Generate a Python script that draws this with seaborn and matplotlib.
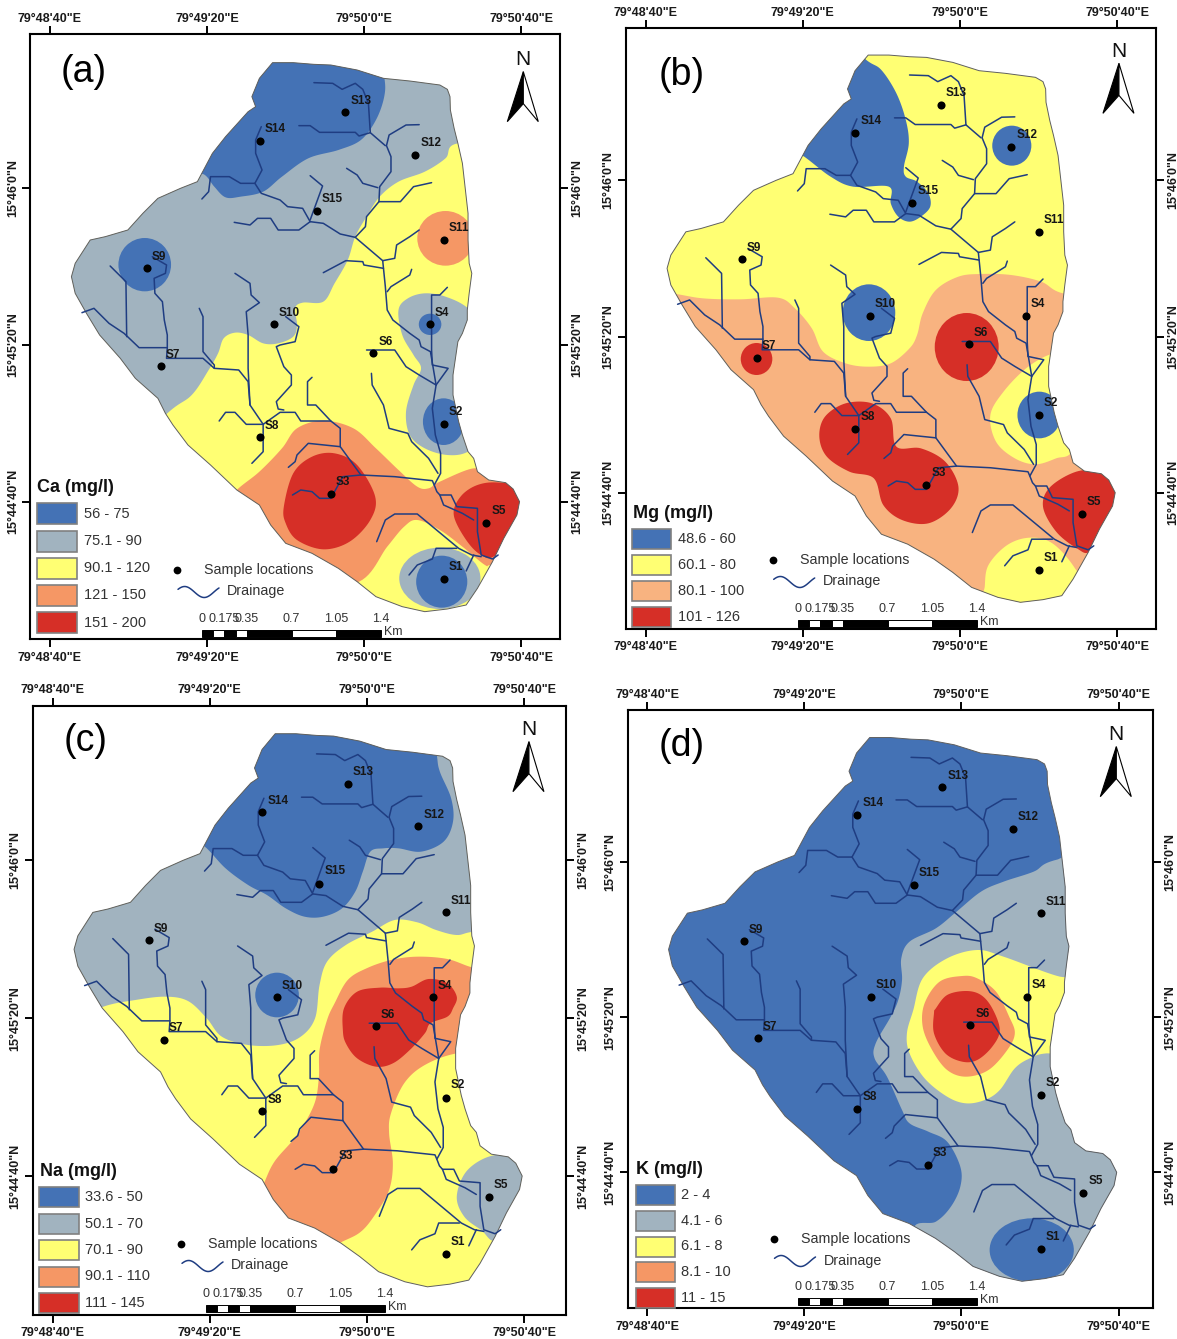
import numpy as np
import pandas as pd
import matplotlib
matplotlib.use("Agg")
import matplotlib.pyplot as plt
from matplotlib.patches import Ellipse, Polygon, Rectangle
import seaborn as sns

# all map geometry was digitised on a grid of 418 units per 40" of longitude
GRID_PER_40S = 418.0
PX_X = 2.66
PX_Y = 3.0

BLUE = "#4472b5"
GREY = "#a1b3bf"
YELLOW = "#ffff73"
ORANGE = "#f59765"
PEACH = "#f8b380"
RED = "#d62f27"

LON_LABELS = ["79°48'40\"E", "79°49'20\"E", "79°50'0\"E", "79°50'40\"E"]
LAT_LABELS = ["15°44'40\"N", "15°45'20\"N", "15°46'0\"N"]
SCALE_LABELS = ["0", "0.175", "0.35", "0.7", "1.05", "1.4"]
SCALE_TICKS = [0, 0.175, 0.35, 0.7, 1.05, 1.4]
SCALE_BREAKS = [0, 0.0875, 0.175, 0.2625, 0.35, 0.7, 1.05, 1.4]

SITES = ["S1", "S2", "S3", "S4", "S5", "S6", "S7", "S8", "S9", "S10", "S11", "S12", "S13", "S14", "S15"]
SITE_X = [1180, 1180, 880, 1144, 1293, 992, 428, 691, 390, 729, 1180, 1105, 918, 691, 842]
SITE_Y = [1737, 1272, 1483, 973, 1568, 1058, 1099, 1312, 803, 973, 720, 464, 337, 422, 634]
LABEL_X = [1212, 1212, 912, 1175, 1326, 1025, 460, 724, 422, 770, 1220, 1147, 960, 733, 884]
LABEL_Y = [1702, 1235, 1445, 938, 1532, 1025, 1065, 1278, 770, 938, 685, 430, 303, 387, 597]

OUTLINE = [(725, 188), (780, 188), (835, 193), (880, 195), (950, 210), (1020, 235), (1090, 243), (1170, 255),
           (1190, 268), (1197, 290), (1198, 330), (1208, 385), (1218, 430), (1230, 490), (1240, 590), (1245, 640),
           (1245, 720), (1248, 790), (1255, 820), (1248, 880), (1243, 930), (1243, 960), (1230, 1000), (1218, 1025),
           (1205, 1125), (1205, 1185), (1220, 1265), (1230, 1305), (1245, 1355), (1260, 1375), (1270, 1415),
           (1300, 1440), (1345, 1448), (1365, 1467), (1382, 1505), (1375, 1545), (1340, 1615), (1310, 1685),
           (1290, 1725), (1270, 1765), (1240, 1815), (1190, 1827), (1130, 1835), (1070, 1820), (1000, 1790),
           (950, 1745), (900, 1705), (830, 1660), (760, 1630), (720, 1575), (690, 1515), (630, 1470), (560, 1395),
           (500, 1335), (460, 1275), (440, 1240), (420, 1195), (360, 1135), (320, 1075), (265, 1005), (230, 940),
           (200, 880), (190, 830), (200, 790), (240, 720), (280, 710), (340, 690), (380, 640), (420, 595),
           (480, 565), (525, 545), (565, 460), (600, 410), (660, 335), (680, 320), (670, 290), (690, 235)]

STREAMS = [
    [(835, 248), (885, 250), (910, 268), (945, 250), (965, 268), (980, 310), (985, 398), (1025, 437)],
    [(795, 377), (825, 377), (850, 397), (945, 397), (955, 408), (985, 398)],
    [(1115, 374), (1080, 375), (1035, 405), (1028, 437), (1040, 470), (1040, 515), (1010, 560), (1008, 605),
     (975, 650), (972, 680), (945, 712)],
    [(922, 505), (950, 525), (965, 550), (1005, 563)],
    [(1148, 548), (1100, 560), (1065, 605), (1008, 605)],
    [(695, 380), (680, 420), (680, 460), (697, 510), (678, 550), (695, 580), (745, 600), (765, 620), (805, 625),
     (825, 665), (860, 670), (905, 702), (945, 712), (1018, 782), (1025, 860), (1030, 930), (1045, 960),
     (1090, 1000), (1115, 1020), (1120, 1040), (1145, 1055), (1160, 1155)],
    [(1190, 862), (1170, 885), (1148, 885), (1148, 1050), (1150, 1095), (1192, 1105), (1160, 1155), (1150, 1225),
     (1158, 1305), (1172, 1360), (1172, 1420), (1155, 1455), (1162, 1475), (1170, 1485), (1200, 1485),
     (1215, 1520), (1270, 1525), (1270, 1595), (1280, 1665), (1310, 1677), (1325, 1665)],
    [(975, 1050), (1050, 1050), (1080, 1100), (1115, 1125), (1160, 1155)],
    [(988, 1120), (990, 1155), (1020, 1215), (1035, 1285), (1085, 1300), (1095, 1325), (1140, 1375), (1165, 1420)],
    [(778, 1485), (800, 1470), (830, 1475), (850, 1495), (880, 1495), (912, 1430), (960, 1425), (1050, 1430),
     (1150, 1442), (1155, 1455)],
    [(960, 1425), (905, 1340), (820, 1330), (790, 1365), (785, 1385), (767, 1402)],
    [(905, 1340), (905, 1285), (880, 1263), (800, 1263), (785, 1237), (745, 1237), (700, 1273), (655, 1273),
     (625, 1237), (600, 1237), (583, 1263)],
    [(830, 1132), (818, 1145), (818, 1215), (840, 1215), (880, 1263)],
    [(700, 1273), (700, 1355), (670, 1390)],
    [(625, 820), (665, 850), (668, 885), (690, 908), (655, 935), (660, 1005), (660, 1105), (665, 1215), (700, 1273)],
    [(760, 950), (795, 980), (785, 1025), (745, 1035), (735, 1040), (755, 1100), (775, 1125), (775, 1155),
     (735, 1205), (740, 1227), (755, 1230)],
    [(293, 798), (335, 845), (337, 1010)],
    [(218, 938), (250, 925), (290, 970), (330, 1000), (370, 1043), (445, 1043)],
    [(405, 770), (443, 795), (440, 820), (410, 835), (412, 880), (432, 905), (437, 960), (445, 1005), (445, 1043),
     (443, 1075), (540, 1075), (570, 1105), (635, 1110), (660, 1145), (665, 1215)],
    [(530, 925), (540, 950), (540, 1055), (570, 1095), (570, 1105)],
    [(623, 667), (665, 675), (685, 655), (720, 655), (740, 690), (795, 690), (825, 665)],
    [(825, 527), (858, 558), (825, 660)],
    [(537, 597), (555, 575), (560, 530), (610, 530), (640, 550), (678, 550)],
    [(1115, 690), (1090, 710), (1055, 735), (1050, 775), (1018, 782)],
    [(860, 818), (920, 782), (965, 785), (968, 795), (1020, 805)],
    [(1095, 808), (1090, 825), (1040, 860), (1030, 875)],
    [(1002, 1625), (1025, 1560), (1050, 1542), (1110, 1542), (1220, 1645), (1255, 1665), (1280, 1670)],
    [(1260, 1665), (1240, 1713)],
    [(1088, 1725), (1110, 1695), (1150, 1677), (1160, 1645), (1215, 1645)],
    [(1170, 1485), (1180, 1515), (1230, 1540), (1260, 1560)],
]

# panel a, Ca
A_GREY = [(0, 100), (1400, 100), (1400, 430), (1218, 430), (1185, 475), (1130, 515), (1060, 545), (1010, 590),
          (975, 650), (945, 710), (925, 780), (890, 850), (860, 905), (805, 908), (785, 925), (790, 975),
          (780, 1010), (740, 1030), (700, 1030), (660, 1005), (625, 998), (595, 1015), (580, 1060), (555, 1110),
          (510, 1185), (445, 1240), (300, 1400), (0, 1300)]
A_BLUE = [(500, 500), (545, 525), (570, 560), (600, 592), (640, 590), (700, 575), (750, 530), (820, 475), (900, 450),
          (960, 420), (1000, 360), (1022, 290), (1022, 230), (1000, 120), (600, 120), (450, 350)]
A_EAST = [(1060, 930), (1085, 895), (1130, 880), (1185, 890), (1245, 925), (1300, 1000), (1300, 1300), (1245, 1355),
          (1190, 1365), (1130, 1345), (1090, 1305), (1080, 1235), (1100, 1155), (1120, 1105), (1100, 1065), (1070, 1005)]
A_ORANGE = [(630, 1470), (690, 1415), (750, 1345), (790, 1285), (860, 1262), (940, 1285), (1000, 1345), (1060, 1410),
            (1110, 1460), (1140, 1465), (1170, 1445), (1260, 1405), (1300, 1430), (1420, 1450), (1420, 1700),
            (1310, 1695), (1290, 1695), (1230, 1640), (1170, 1590), (1110, 1560), (1075, 1580), (1030, 1640),
            (955, 1745), (800, 1760), (600, 1520)]
A_RED_S3 = [(755, 1520), (780, 1420), (830, 1370), (890, 1360), (950, 1395), (998, 1490), (985, 1560), (930, 1625),
            (860, 1648), (790, 1620), (760, 1570)]
A_RED_S5 = [(1207, 1545), (1225, 1490), (1270, 1455), (1330, 1448), (1420, 1470), (1420, 1560), (1320, 1665),
            (1280, 1665), (1240, 1620)]

# panel b, Mg
B_BLUE = [(735, 180), (775, 210), (815, 280), (840, 360), (848, 430), (835, 500), (840, 530), (870, 545), (900, 580),
          (905, 620), (880, 650), (850, 665), (820, 650), (800, 610), (795, 560), (700, 560), (640, 530), (570, 470),
          (480, 400), (650, 100)]
B_PEACH = [(100, 870), (215, 880), (300, 895), (400, 898), (500, 893), (545, 925), (590, 985), (620, 1055),
           (680, 1090), (740, 1100), (800, 1090), (850, 1045), (870, 1005), (885, 940), (920, 870), (980, 830),
           (1040, 822), (1120, 825), (1200, 845), (1258, 880), (1400, 900), (1500, 1100), (1500, 1900), (100, 1900)]
B_YELLOW_S2 = [(1220, 1065), (1160, 1105), (1100, 1175), (1065, 1245), (1080, 1325), (1130, 1375), (1185, 1393),
               (1240, 1375), (1285, 1350), (1330, 1205), (1260, 1065)]
B_YELLOW_S1 = [(1050, 1760), (1060, 1695), (1110, 1635), (1170, 1613), (1230, 1630), (1290, 1705), (1330, 1805),
               (1150, 1880), (1050, 1810)]
B_RED_S8 = [(610, 1310), (625, 1250), (680, 1210), (750, 1210), (800, 1255), (815, 1340), (880, 1345), (945, 1385),
            (980, 1460), (960, 1525), (900, 1570), (830, 1560), (780, 1515), (755, 1435), (690, 1415), (630, 1370)]
B_RED_S5 = [(1205, 1520), (1225, 1460), (1300, 1413), (1375, 1420), (1440, 1485), (1380, 1585), (1330, 1655),
            (1295, 1645), (1240, 1595)]

# panel c, Na
C_GREY = [(0, 100), (1400, 100), (1400, 770), (1265, 770), (1215, 780), (1160, 765), (1110, 742), (1050, 735),
          (990, 770), (920, 810), (870, 860), (850, 930), (838, 1030), (800, 1085), (740, 1110), (660, 1110),
          (590, 1085), (550, 1030), (500, 978), (440, 965), (360, 975), (275, 995), (200, 1040), (0, 1040)]
C_BLUE = [(500, 480), (548, 518), (600, 580), (660, 630), (710, 660), (760, 700), (810, 725), (860, 725), (910, 700),
          (945, 650), (965, 590), (985, 530), (1020, 520), (1060, 520), (1120, 530), (1180, 500), (1205, 440),
          (1200, 370), (1170, 290), (1162, 240), (1150, 120), (600, 120), (450, 400)]
C_ORANGE = [(1320, 878), (1260, 878), (1190, 852), (1110, 845), (1040, 855), (975, 880), (925, 915), (890, 985),
            (870, 1035), (850, 1125), (848, 1210), (835, 1290), (790, 1380), (730, 1460), (698, 1535), (650, 1650),
            (800, 1760), (905, 1703), (960, 1670), (1000, 1615), (1035, 1545), (1045, 1465), (1035, 1375),
            (1040, 1315), (1075, 1225), (1130, 1170), (1215, 1135), (1320, 1130)]
C_RED = [(915, 1000), (950, 950), (1010, 938), (1060, 940), (1095, 935), (1140, 912), (1190, 925), (1215, 965),
         (1205, 1000), (1190, 1025), (1145, 1045), (1130, 1075), (1090, 1125), (1045, 1165), (1000, 1175), (950, 1150),
         (920, 1105), (912, 1065)]
C_GREY_S5 = [(1215, 1565), (1240, 1490), (1300, 1445), (1365, 1445), (1440, 1505), (1380, 1595), (1320, 1695),
             (1280, 1665), (1235, 1625)]

# panel d, K
D_GREY = [(1245, 553), (1180, 590), (1100, 620), (1040, 650), (975, 710), (920, 760), (850, 800), (828, 850),
          (830, 915), (820, 975), (800, 1025), (760, 1105), (757, 1150), (790, 1205), (830, 1305), (850, 1345),
          (900, 1370), (950, 1400), (985, 1475), (985, 1535), (960, 1595), (920, 1640), (860, 1665), (900, 1850),
          (1500, 1850), (1500, 500)]
D_YELLOW = [(860, 1005), (885, 910), (950, 850), (1030, 825), (1100, 845), (1250, 905), (1320, 905), (1320, 1135),
            (1215, 1135), (1170, 1150), (1130, 1180), (1090, 1245), (1050, 1275), (1000, 1285), (950, 1265),
            (890, 1210), (850, 1135), (843, 1075)]
D_ORANGE = [(890, 985), (930, 920), (990, 903), (1030, 910), (1080, 950), (1115, 1025), (1130, 1075), (1110, 1125),
            (1060, 1185), (1000, 1205), (950, 1185), (910, 1125), (885, 1055)]
D_RED = [(920, 1000), (950, 960), (1000, 948), (1040, 960), (1070, 1000), (1090, 1065), (1070, 1115), (1030, 1155),
         (990, 1160), (945, 1135), (915, 1075), (915, 1015)]

PANELS = [
    dict(letter="(a)", title="Ca (mg/l)", origin=(0, 0), x0=133, y46=565, y44=1505, frame=(80, 1490, 103, 1917),
         base=YELLOW, letter_at=(83.5, 72), north=(1392, 215), swatch=(36.5, 503.3, 40.6, 21, 27.2), title_at=(37, 488),
         key_at=(177, 570), scale_at=(202, 630),
         labels=["56 - 75", "75.1 - 90", "90.1 - 120", "121 - 150", "151 - 200"],
         colors=[BLUE, GREY, YELLOW, ORANGE, RED],
         zones=[(A_GREY, GREY), (A_BLUE, BLUE), ((385, 794, 70, 80), BLUE), (A_EAST, GREY), ((1144, 973, 30, 32), BLUE),
                ((1180, 1265, 55, 70), BLUE), ((1185, 715, 75, 82), ORANGE), (A_ORANGE, ORANGE), (A_RED_S3, RED),
                (A_RED_S5, RED), ((1170, 1735, 108, 92), GREY), ((1175, 1745, 68, 78), BLUE)]),
    dict(letter="(b)", title="Mg (mg/l)", origin=(590, 0), x0=148, y46=541, y44=1478, frame=(95, 1505, 85, 1887),
         base=YELLOW, letter_at=(682, 75), north=(1407, 190), swatch=(632, 529, 39, 20, 25.9), title_at=(633, 513),
         key_at=(772.7, 560), scale_at=(798, 620),
         labels=["48.6 - 60", "60.1 - 80", "80.1 - 100", "101 - 126"],
         colors=[BLUE, YELLOW, PEACH, RED],
         zones=[(B_BLUE, BLUE), ((1122, 437, 52, 60), BLUE), (B_PEACH, PEACH), (B_YELLOW_S2, YELLOW),
                (B_YELLOW_S1, YELLOW), ((742, 938, 70, 85), BLUE), ((443, 1077, 42, 48), RED),
                ((1002, 1041, 85, 102), RED), ((1195, 1245, 58, 70), BLUE), (B_RED_S8, RED), (B_RED_S5, RED)]),
    dict(letter="(c)", title="Na (mg/l)", origin=(0, 675), x0=140, y46=556, y44=1503, frame=(87, 1505, 92, 1920),
         base=YELLOW, letter_at=(86, 741), north=(1407, 200), swatch=(39, 1187, 39.5, 20, 26.5), title_at=(39.5, 1171),
         key_at=(181, 1244), scale_at=(205.6, 1305),
         labels=["33.6 - 50", "50.1 - 70", "70.1 - 90", "90.1 - 110", "111 - 145"],
         colors=[BLUE, GREY, YELLOW, ORANGE, RED],
         zones=[(C_GREY, GREY), (C_BLUE, BLUE), ((737, 960, 58, 67), BLUE), (C_ORANGE, ORANGE), (C_RED, RED),
                (C_GREY_S5, GREY)]),
    dict(letter="(d)", title="K (mg/l)", origin=(590, 675), x0=152, y46=561, y44=1492, frame=(100, 1497, 105, 1900),
         base=BLUE, letter_at=(682, 746), north=(1400, 215), swatch=(635.5, 1185, 39, 20, 25.75), title_at=(636, 1170),
         key_at=(773.5, 1239), scale_at=(798, 1297.7),
         labels=["2 - 4", "4.1 - 6", "6.1 - 8", "8.1 - 10", "11 - 15"],
         colors=[BLUE, GREY, YELLOW, ORANGE, RED],
         zones=[(D_GREY, GREY), (D_YELLOW, YELLOW), (D_ORANGE, ORANGE), (D_RED, RED), ((1175, 1725, 112, 95), BLUE)]),
]

# the shared layers were digitised on panel a
REF_X0, REF_Y46, REF_Y44 = 133, 565, 1505


def to_lonlat(xs, ys, x0=REF_X0, y46=REF_Y46, y44=REF_Y44):
    lon = (np.asarray(xs, dtype=float) - x0) / GRID_PER_40S * 40
    lat = (y44 - np.asarray(ys, dtype=float)) / (y44 - y46) * 80
    return lon, lat


def smooth_ring(xs, ys, steps=12):
    # closed Catmull-Rom, so the zone edges are rounded like the kriged surfaces
    p = np.column_stack([xs, ys])
    n = len(p)
    out = []
    t = np.linspace(0, 1, steps, endpoint=False)[:, None]
    for i in range(n):
        a, b, c, d = p[i - 1], p[i], p[(i + 1) % n], p[(i + 2) % n]
        out.append(0.5 * (2 * b + (c - a) * t + (2 * a - 5 * b + 4 * c - d) * t ** 2 + (3 * b - a - 3 * c + d) * t ** 3))
    return np.vstack(out)


sns.set_style("white")
plt.rcParams["font.family"] = ["Liberation Sans", "DejaVu Sans"]

W, H = 1177, 1339
fig = plt.figure(figsize=(W / 100, H / 100), dpi=100)

site_lon, site_lat = to_lonlat(SITE_X, SITE_Y)
sites_df = pd.DataFrame({"lon": site_lon, "lat": site_lat, "site": SITES})
label_lon, label_lat = to_lonlat(LABEL_X, LABEL_Y)

rows = []
for i, reach in enumerate(STREAMS):
    lon, lat = to_lonlat([q[0] for q in reach], [q[1] for q in reach])
    rows.append(pd.DataFrame({"lon": lon, "lat": lat, "reach": i}))
streams_df = pd.concat(rows, ignore_index=True)

out_lon, out_lat = to_lonlat([q[0] for q in OUTLINE], [q[1] for q in OUTLINE])
outline_xy = np.column_stack([out_lon, out_lat])

# overlay in picture pixels for the legends, scale bars and north arrows
ov = fig.add_axes([0, 0, 1, 1], zorder=10)
ov.set_xlim(0, W)
ov.set_ylim(H, 0)
ov.axis("off")
ov.patch.set_alpha(0)

for panel in PANELS:
    ox, oy = panel["origin"]
    fx0, fx1, fy0, fy1 = panel["frame"]
    left = ox + fx0 / PX_X
    right = ox + fx1 / PX_X
    top = oy + fy0 / PX_Y
    bottom = oy + fy1 / PX_Y
    ax = fig.add_axes([left / W, 1 - bottom / H, (right - left) / W, (bottom - top) / H])
    cal = (panel["x0"], panel["y46"], panel["y44"])

    basin = Polygon(outline_xy, closed=True, facecolor=panel["base"], edgecolor="none", zorder=1)
    ax.add_patch(basin)
    for k, (shape, color) in enumerate(panel["zones"]):
        if isinstance(shape, tuple):
            cx, cy, rx, ry = shape
            lon, lat = to_lonlat(cx, cy, *cal)
            w = 2 * rx / GRID_PER_40S * 40
            h = 2 * ry / (cal[2] - cal[1]) * 80
            zone = Ellipse((lon, lat), w, h, facecolor=color, edgecolor="none", zorder=2 + k * 0.01)
        else:
            ring = smooth_ring([q[0] for q in shape], [q[1] for q in shape])
            lon, lat = to_lonlat(ring[:, 0], ring[:, 1], *cal)
            zone = Polygon(np.column_stack([lon, lat]), closed=True, facecolor=color, edgecolor="none",
                           zorder=2 + k * 0.01)
        ax.add_patch(zone)
        zone.set_clip_path(basin)
    ax.add_patch(Polygon(outline_xy, closed=True, fill=False, edgecolor="#5f5f5f", linewidth=0.7, zorder=3))

    sns.lineplot(data=streams_df, x="lon", y="lat", units="reach", estimator=None, sort=False,
                 color="#1f3d82", linewidth=1.1, legend=False, ax=ax, zorder=4)
    sns.scatterplot(data=sites_df, x="lon", y="lat", color="black", s=34, linewidth=0, legend=False, ax=ax, zorder=5)
    for name, lx, ly in zip(SITES, label_lon, label_lat):
        ax.text(lx, ly, name, fontsize=8.5, fontweight="bold", color="#161616", ha="center", va="center", zorder=6)

    xl, _ = to_lonlat([fx0, fx1], [0, 0], *cal)
    _, yl = to_lonlat([0, 0], [fy1, fy0], *cal)
    ax.set_xlim(xl[0], xl[1])
    ax.set_ylim(yl[0], yl[1])
    ax.set_xlabel("")
    ax.set_ylabel("")
    ax.set_xticks([0, 40, 80, 120])
    ax.set_xticklabels(LON_LABELS)
    ax.set_yticks([0, 40, 80])
    ax.set_yticklabels(LAT_LABELS, rotation=90, va="center")
    ax.tick_params(axis="both", which="both", length=6, width=1.4, color="black", top=True, right=True, bottom=True,
                   left=True, labeltop=True, labelright=True, labelbottom=True, labelleft=True, labelsize=9, pad=2,
                   labelcolor="#1a1a1a")
    ax.tick_params(axis="x", pad=3)
    for lab in ax.get_xticklabels() + ax.get_yticklabels():
        lab.set_fontweight("bold")
    for lab in ax.yaxis.get_ticklabels(which="major"):
        lab.set_rotation(90)
    for tick in ax.yaxis.get_major_ticks():
        tick.label2.set_rotation(90)
        tick.label2.set_va("center")
        tick.label2.set_fontweight("bold")
    for tick in ax.xaxis.get_major_ticks():
        tick.label2.set_fontweight("bold")
        tick.label2.set_va("baseline")
    for sp in ax.spines.values():
        sp.set_visible(True)
        sp.set_color("black")
        sp.set_linewidth(1.5)

    # letter
    ov.text(panel["letter_at"][0], panel["letter_at"][1], panel["letter"], fontsize=27, ha="center", va="center",
            color="black")

    # north arrow
    nx = ox + panel["north"][0] / PX_X
    ny = oy + panel["north"][1] / PX_Y
    ov.text(nx, ny - 12, "N", fontsize=15, ha="center", va="center", color="#111111")
    ov.add_patch(Polygon([(nx, ny), (nx - 16, ny + 50), (nx, ny + 32)], closed=True, facecolor="black",
                         edgecolor="black", linewidth=0.8))
    ov.add_patch(Polygon([(nx, ny), (nx + 15, ny + 50), (nx, ny + 32)], closed=True, facecolor="white",
                         edgecolor="black", linewidth=0.8))

    # class legend
    sx, sy, sw, sh, step = panel["swatch"]
    ov.text(panel["title_at"][0], panel["title_at"][1], panel["title"], fontsize=13, fontweight="bold", ha="left",
            va="center", color="#111111")
    for i, (label, color) in enumerate(zip(panel["labels"], panel["colors"])):
        y = sy + i * step
        clip_h = min(sh, bottom - y)
        ov.add_patch(Rectangle((sx, y), sw, clip_h, facecolor=color, edgecolor="#808080", linewidth=1.2))
        ov.text(sx + sw + 6.5, y + sh / 2, label, fontsize=10.5, ha="left", va="center", color="#333333")

    # samples and drainage key
    kx, ky = panel["key_at"]
    ov.plot([kx], [ky], "o", color="black", markersize=5.6, markeredgewidth=0)
    ov.text(kx + 27.5, ky, "Sample locations", fontsize=10.3, ha="left", va="center", color="#333333")
    t = np.linspace(0, 1, 40)
    ov.plot(kx + 1 + 41 * t, ky + 21.5 + 0.5 - 5.5 * np.sin(2 * np.pi * (t * 1.05 + 0.08)), color="#1f3d82", linewidth=1.1)
    ov.text(kx + 50, ky + 21.5, "Drainage", fontsize=10.3, ha="left", va="center", color="#333333")

    # scale bar
    bx, by = panel["scale_at"]
    bar_w = 179.0
    to_px = lambda km: bx + km / 1.4 * bar_w
    for i in range(len(SCALE_BREAKS) - 1):
        a, b = SCALE_BREAKS[i], SCALE_BREAKS[i + 1]
        ov.add_patch(Rectangle((to_px(a), by), to_px(b) - to_px(a), 7, facecolor="black" if i % 2 == 0 else "white",
                               edgecolor="black", linewidth=0.7))
    for km, label in zip(SCALE_TICKS, SCALE_LABELS):
        ov.text(to_px(km), by - 11, label, fontsize=9, ha="center", va="center", color="#333333")
    ov.text(bx + bar_w + 3, by + 2, "Km", fontsize=9, ha="left", va="center", color="#333333")

fig.savefig("out.png", dpi=100)
